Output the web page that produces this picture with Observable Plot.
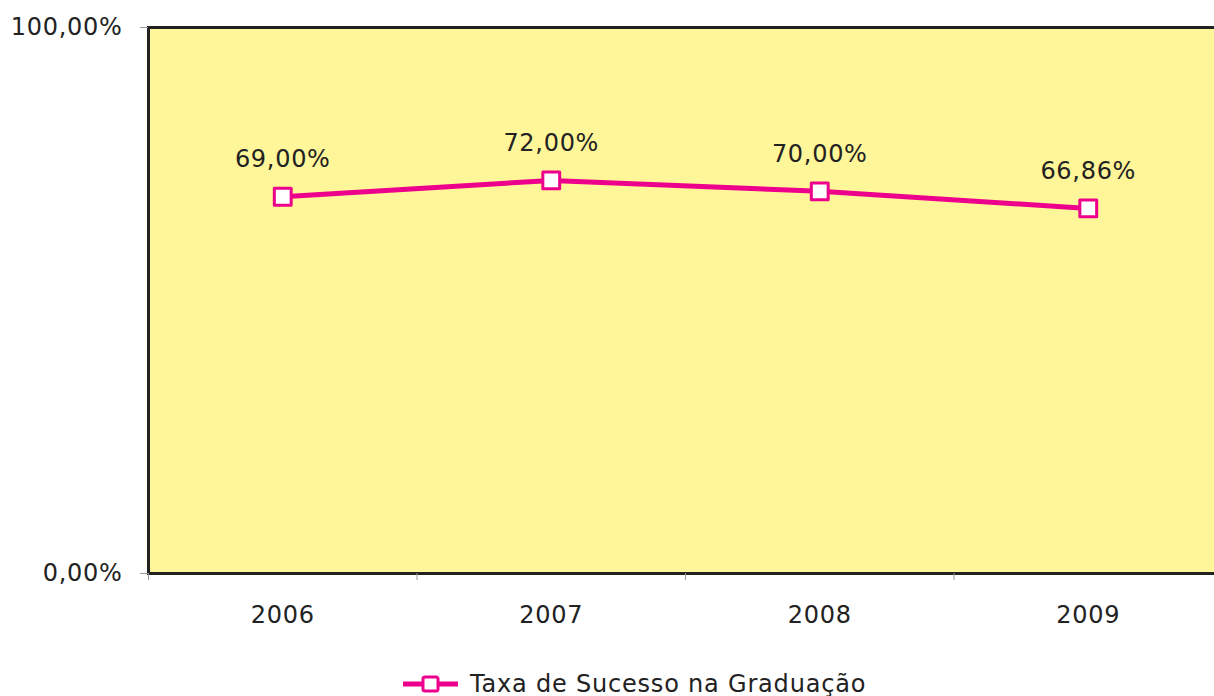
<!DOCTYPE html>
<html>
<head>
<meta charset="utf-8">
<script src="https://cdn.jsdelivr.net/npm/d3@7"></script>
<script src="https://cdn.jsdelivr.net/npm/@observablehq/plot@0.6"></script>
<style>
  body { margin: 0; background: #fff; font-family: "DejaVu Sans", Verdana, sans-serif; }
  #chart svg text { letter-spacing: 0.7px; }
  #legend { box-sizing: border-box; height: 46px; padding-top: 22px; display: flex; align-items: center; padding-left: 403px; font-size: 24px; letter-spacing: 0.8px; color: #222; }
  #legend svg { margin-right: 12px; }
</style>
</head>
<body>
<div id="chart"></div>
<div id="legend"></div>
<script>
const years = [2006, 2007, 2008, 2009];
const values = [69.00, 72.00, 70.00, 66.86];
const yTicks = [0, 100];
const seriesName = "Taxa de Sucesso na Graduação";
const lineColor = "#EC008C";

const fmt = v => v.toFixed(2).replace(".", ",") + "%";
const data = years.map((year, i) => ({year, value: values[i]}));
const boundaries = years.map(y => y - 0.5);

const chart = Plot.plot({
  width: 1214,
  height: 650,
  marginLeft: 148,
  marginTop: 27,
  marginBottom: 77,
  marginRight: -8,
  style: {fontFamily: "DejaVu Sans, Verdana, sans-serif", color: "#222", background: "#fff"},
  x: {type: "linear", domain: [years[0] - 0.5, years[years.length - 1] + 0.5]},
  y: {domain: [0, 100]},
  marks: [
    Plot.frame({fill: "#FFF599", stroke: "#222", strokeWidth: 3}),
    Plot.axisY({ticks: yTicks, tickFormat: fmt, tickSize: 8, tickPadding: 18, stroke: "#999", fontSize: 24, label: null}),
    Plot.axisX({ticks: boundaries, tickFormat: () => "", tickSize: 7, stroke: "#999", label: null}),
    Plot.axisX({ticks: years, tickFormat: d => String(d), tickSize: 0, tickPadding: 32, fontSize: 24, label: null}),
    Plot.line(data, {x: "year", y: "value", stroke: lineColor, strokeWidth: 5}),
    Plot.dot(data, {x: "year", y: "value", symbol: "square", r: 9.5, fill: "#fff", stroke: lineColor, strokeWidth: 3, strokeLinejoin: "round"}),
    Plot.text(data, {x: "year", y: "value", text: d => fmt(d.value), dy: -37, fontSize: 24, fill: "#222"})
  ]
});
document.getElementById("chart").appendChild(chart);

const legend = document.getElementById("legend");
legend.innerHTML = `<svg width="55" height="20"><line x1="0" x2="55" y1="10" y2="10" stroke="${lineColor}" stroke-width="5"/><rect x="20" y="3" width="15" height="14" rx="2" fill="#fff" stroke="${lineColor}" stroke-width="3"/></svg><span>${seriesName}</span>`;
</script>
</body>
</html>
